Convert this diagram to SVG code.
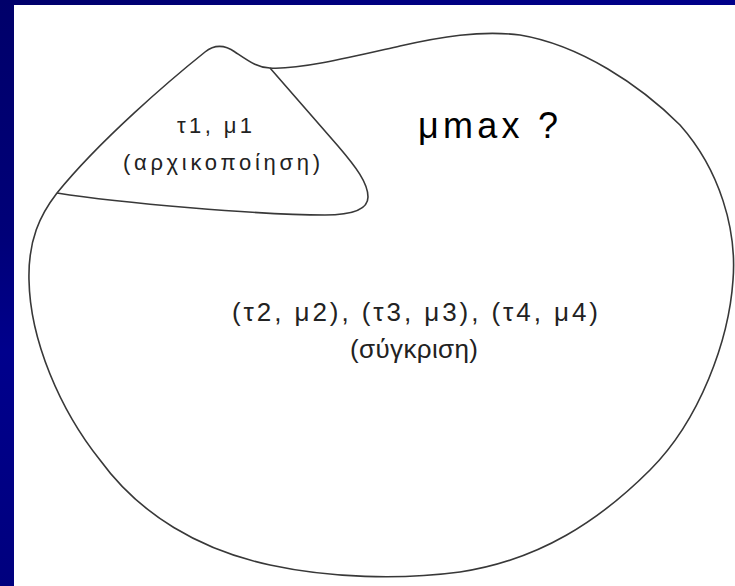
<svg xmlns="http://www.w3.org/2000/svg" width="735" height="586" viewBox="0 0 735 586">
  <style>
    .outline { fill: none; stroke: #383838; stroke-width: 1.6; stroke-linejoin: round; }
    .lbl { font-family: "Liberation Sans", Arial, sans-serif; fill: #222222; }
    .big { font-family: "Liberation Sans", Arial, sans-serif; fill: #000000; }
  </style>
  <defs>
    <linearGradient id="bgLeft" x1="0" y1="0" x2="0" y2="1">
      <stop offset="0" stop-color="#00006a"/>
      <stop offset="0.4" stop-color="#000078"/>
      <stop offset="0.6" stop-color="#00008c"/>
      <stop offset="1" stop-color="#00007e"/>
    </linearGradient>
    <linearGradient id="bgTop" x1="0" y1="0" x2="1" y2="0">
      <stop offset="0" stop-color="#00006a"/>
      <stop offset="0.5" stop-color="#000080"/>
      <stop offset="1" stop-color="#00008a"/>
    </linearGradient>
  </defs>
  <g id="background">
    <rect x="0" y="0" width="735" height="586" fill="#ffffff"/>
    <rect x="0" y="0" width="735" height="5" fill="url(#bgTop)"/>
    <rect x="0" y="0" width="14" height="586" fill="url(#bgLeft)"/>
  </g>
  <g id="connectors">
    <path id="outer-region" class="outline" d="M 270,68 C 300,70 360,55 400,46 C 440,37 480,30 520,35 C 580,45 640,85 680,125 C 720,170 737,230 733,280 C 729,340 700,420 650,470 C 600,520 540,560 460,572 C 400,580 330,578 270,565 C 200,550 140,515 100,460 C 60,410 30,340 29,280 C 28,240 40,215 57,193 C 100,140 170,80 205,52 C 215,44 225,45 235,52 C 250,62 258,68 270,68 Z"/>
    <path id="divider" class="outline" d="M 270,68 L 338,146 C 356,167 368,183 368,197 C 368,211 350,215 325,215 C 260,215 120,203 57,193"/>
  </g>
  <g id="init-region">
    <text class="lbl" x="177" y="133" font-size="22" textLength="75" lengthAdjust="spacing">τ1, μ1</text>
    <text class="lbl" x="123" y="170" font-size="22" textLength="197" lengthAdjust="spacing">(αρχικοποίηση)</text>
  </g>
  <g id="question">
    <text class="big" x="418" y="138" font-size="36" textLength="140" lengthAdjust="spacing">μmax ?</text>
  </g>
  <g id="compare-region">
    <text class="lbl" x="232" y="321" font-size="26" textLength="366" lengthAdjust="spacing">(τ2, μ2), (τ3, μ3), (τ4, μ4)</text>
    <text class="lbl" x="350" y="358" font-size="26" textLength="128" lengthAdjust="spacing">(σύγκριση)</text>
  </g>
</svg>
